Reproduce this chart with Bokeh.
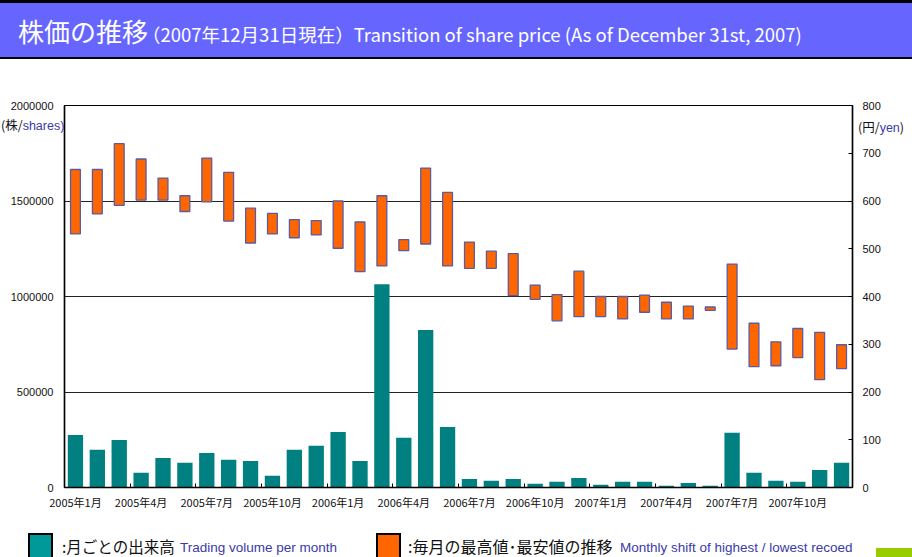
from bokeh.plotting import figure
from bokeh.models import Range1d, LinearAxis, FixedTicker, NumeralTickFormatter, ColumnDataSource, Div, GridBox
from bokeh.embed import file_html
from bokeh.resources import INLINE

# ---------------- data ----------------
months = [
    "2005年1月", "2005年2月", "2005年3月", "2005年4月", "2005年5月", "2005年6月",
    "2005年7月", "2005年8月", "2005年9月", "2005年10月", "2005年11月", "2005年12月",
    "2006年1月", "2006年2月", "2006年3月", "2006年4月", "2006年5月", "2006年6月",
    "2006年7月", "2006年8月", "2006年9月", "2006年10月", "2006年11月", "2006年12月",
    "2007年1月", "2007年2月", "2007年3月", "2007年4月", "2007年5月", "2007年6月",
    "2007年7月", "2007年8月", "2007年9月", "2007年10月", "2007年11月", "2007年12月",
]
volume = [275000, 197000, 249000, 77000, 155000, 129000, 181000, 145000, 139000, 61000,
          197000, 218000, 291000, 139000, 1064000, 260000, 824000, 317000, 45000, 35000,
          45000, 19000, 30000, 50000, 14000, 30000, 30000, 9000, 24000, 9000,
          286000, 77000, 35000, 30000, 92000, 129000]
price_high = [666, 666, 720, 688, 648, 611, 690, 660, 585, 574, 561, 559,
              600, 556, 611, 519, 669, 618, 514, 495, 490, 424, 404, 453,
              400, 400, 403, 388, 380, 378, 468, 344, 305, 333, 325, 299]
price_low = [531, 573, 591, 602, 602, 578, 598, 558, 512, 531, 523, 529,
             501, 452, 464, 496, 510, 464, 459, 459, 402, 394, 349, 358,
             358, 353, 367, 353, 353, 371, 290, 253, 255, 272, 226, 249]
volume_ticks = [0, 500000, 1000000, 1500000, 2000000]
yen_ticks = [0, 100, 200, 300, 400, 500, 600, 700, 800]
label_every = 3

title_main = "株価の推移"
title_sub = "（2007年12月31日現在）Transition of share price (As of December 31st, 2007)"
unit_left = ("(株/", "shares)")
unit_right = ("(円/", "yen", ")")
legend_vol = (":月ごとの出来高", "Trading volume per month")
legend_price = (":毎月の最高値･最安値の推移", "Monthly shift of highest / lowest recoed")

# ---------------- styles ----------------
TEAL = "#008080"
ORANGE = "#FF6600"
OUTLINE = "#5b5ba3"
BLUE_TXT = "#3a3aa8"
PURPLE = "#6666FF"
JP = "Noto Sans CJK JP"
LAT = "Liberation Sans"

W, H = 912, 557
N = len(months)
xs = list(range(1, N + 1))
src = ColumnDataSource(dict(x=xs, month=months, vol=volume, high=price_high, low=price_low))

# ---------------- main chart ----------------
p = figure(width=W, height=H, x_range=Range1d(0.5, N + 0.5), y_range=Range1d(0, 2000000),
           output_backend="svg", toolbar_location=None, title=None,
           min_border_left=64, min_border_right=60, min_border_top=105, min_border_bottom=70,
           outline_line_color="black", outline_line_width=1.2,
           background_fill_color="white", border_fill_color=None)
p.extra_y_ranges = {"yen": Range1d(0, 800)}

p.xgrid.grid_line_color = None
p.ygrid.ticker = FixedTicker(ticks=volume_ticks[1:-1])
p.ygrid.grid_line_color = "#222222"
p.ygrid.grid_line_width = 1.2

xa = p.xaxis[0]
xa.ticker = FixedTicker(ticks=xs[::label_every],
                        minor_ticks=[x - 0.5 for x in xs[::label_every]] + [N + 0.5])
xa.major_label_overrides = {x: months[x - 1] for x in xs[::label_every]}
xa.major_tick_line_color = None
xa.major_tick_in = 0
xa.major_tick_out = 0
xa.minor_tick_in = 4
xa.minor_tick_out = 0
xa.minor_tick_line_color = "black"
xa.axis_line_color = "black"
xa.axis_line_width = 1.5
xa.major_label_text_font = JP
xa.major_label_text_font_size = "11px"
xa.major_label_text_color = "#111111"
xa.major_label_standoff = 6

ya = p.yaxis[0]
ya.ticker = FixedTicker(ticks=volume_ticks)
ya.formatter = NumeralTickFormatter(format="0")
ya.major_tick_line_color = None
ya.major_tick_in = 0
ya.major_tick_out = 0
ya.minor_tick_line_color = None
ya.axis_line_color = "black"
ya.axis_line_width = 1.5
ya.major_label_text_font = LAT
ya.major_label_text_font_size = "11px"
ya.major_label_text_color = "#111111"
ya.major_label_standoff = 11

ra = LinearAxis(y_range_name="yen", ticker=FixedTicker(ticks=yen_ticks))
ra.major_tick_in = 4
ra.major_tick_out = 0
ra.major_tick_line_color = "black"
ra.minor_tick_line_color = None
ra.axis_line_color = "black"
ra.axis_line_width = 1.5
ra.major_label_text_font = LAT
ra.major_label_text_font_size = "11px"
ra.major_label_text_color = "#111111"
ra.major_label_standoff = 10
p.add_layout(ra, "right")

p.vbar(x="x", top="vol", width=0.7, source=src, fill_color=TEAL, line_color=None)
p.vbar(x="x", top="high", bottom="low", width=0.45, source=src, y_range_name="yen",
       fill_color=ORANGE, line_color=OUTLINE, line_width=1.3)

# ---------------- header, unit labels and legend (overlay) ----------------
def box(left, top, style, inner=""):
    return f'<div style="position:absolute;left:{left}px;top:{top}px;{style}">{inner}</div>'

parts = []
parts.append(box(0, 0, f"width:{W}px;height:59px;background:{PURPLE};border-top:3px solid #000;"
                       "border-bottom:2px solid #000;box-sizing:border-box;"))
parts.append(box(18, 12, f"white-space:nowrap;color:#fff;font-family:'{JP}';font-size:26px;line-height:normal;",
                 f'<span style="font-size:26px">{title_main}</span>'
                 f'<span style="font-size:18.5px;margin-left:-6px">{title_sub}</span>'))
parts.append(box(1, 117, f"white-space:nowrap;color:#111;font-family:'{JP}';font-size:12.5px;line-height:16px;",
                 f'{unit_left[0]}<span style="color:{BLUE_TXT};font-family:\'{LAT}\'">{unit_left[1]}</span>'))
parts.append(box(858, 119, f"white-space:nowrap;color:#111;font-family:'{JP}';font-size:12.5px;line-height:16px;",
                 f'{unit_right[0]}<span style="color:{BLUE_TXT};font-family:\'{LAT}\'">{unit_right[1]}</span>{unit_right[2]}'))
# legend swatches
parts.append(box(28, 533, "width:25px;height:30px;background:#009999;border:2px solid #000;box-sizing:border-box;"))
parts.append(box(376, 533, f"width:25px;height:30px;background:{ORANGE};border:2px solid #000;box-sizing:border-box;"))
parts.append(box(876, 548, "width:36px;height:9px;background:#99CC00;"))
# legend texts
jp_leg = f"white-space:nowrap;color:#111;font-family:'{JP}';line-height:16px;"
en_leg = f"white-space:nowrap;color:{BLUE_TXT};font-family:'{LAT}';font-size:13.5px;line-height:14px;"
parts.append(box(62, 538, jp_leg + "font-size:15.5px;", legend_vol[0]))
parts.append(box(180, 541, en_leg, legend_vol[1]))
parts.append(box(408, 538, jp_leg + "font-size:16px;", legend_price[0]))
parts.append(box(620, 541, en_leg, legend_price[1]))

overlay_html = (f'<div style="position:relative;width:{W}px;height:{H}px;overflow:hidden;margin:0;padding:0;">'
                + "".join(parts) + "</div>")
overlay = Div(text=overlay_html, width=W, height=H, margin=0, styles={"padding": "0", "margin": "0"})

layout = GridBox(children=[(p, 0, 0), (overlay, 0, 0)])
open("out.html", "w").write(file_html(layout, INLINE))
